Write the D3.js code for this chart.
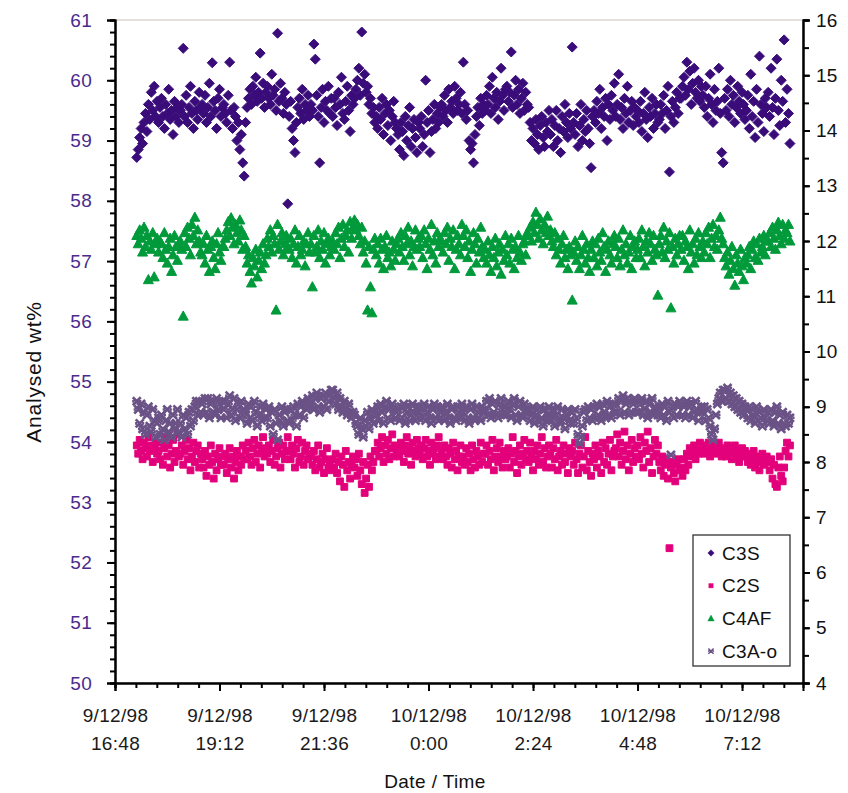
<!DOCTYPE html>
<html>
<head>
<meta charset="utf-8">
<script src="https://cdn.jsdelivr.net/npm/d3@7"></script>
<style>
  html, body { margin: 0; padding: 0; background: #ffffff; }
  svg text { font-family: "Liberation Sans", Arial, Helvetica, sans-serif; }
</style>
</head>
<body>
<svg id="chart" width="848" height="793"></svg>
<script>
// On-line analyser readings, logged every 2 minutes from 17:18 on 9/12/98.
const sampleStart = "1998-12-09T17:18";
const sampleStepMinutes = 2;

// C3S, wt% (left axis)
const C3S = [
  58.72, 58.85, 59.05, 59.2, 58.95, 59.3, 59.45, 59.15, 59.6, 59.35, 59.8, 59.5, 59.9, 59.4, 59.65,
  59.3, 59.55, 59.7, 59.4, 59.2, 59.6, 59.45, 59.85, 59.35, 59.5, 59.1, 59.65, 59.4, 59.55, 59.3,
  59.5, 59.6, 60.53, 59.4, 59.75, 59.3, 59.55, 59.9, 59.45, 59.2, 59.65, 59.5, 59.35, 59.8, 59.55,
  59.6, 59.45, 59.75, 59.3, 59.55, 59.95, 59.4, 60.29, 59.65, 59.5, 59.2, 59.7, 59.85, 59.4, 59.55,
  59.6, 59.45, 59.3, 59.75, 60.3, 59.5, 59.2, 59.55, 59.4, 59.0, 59.3, 58.85, 59.1, 58.63, 58.41,
  59.3, 59.55, 59.7, 59.85, 59.6, 59.9, 59.75, 60.05, 59.65, 59.8, 60.45, 59.7, 59.95, 59.55, 59.8,
  59.9, 59.7, 59.6, 60.1, 59.75, 59.85, 59.5, 60.78, 59.65, 59.95, 59.7, 59.45, 59.8, 59.6, 57.95,
  59.4, 59.65, 59.2, 59.0, 58.8, 59.3, 59.55, 59.7, 59.45, 59.85, 59.35, 59.6, 59.5, 59.75, 59.4,
  59.6, 59.5, 60.6, 60.35, 59.75, 59.4, 58.63, 59.55, 59.85, 59.3, 59.65, 59.5, 59.9, 59.45, 59.7,
  59.4, 59.7, 59.55, 59.25, 59.8, 59.6, 60.05, 59.45, 59.35, 59.65, 59.9, 59.5, 59.15, 59.75, 59.6,
  59.7, 59.85, 60.0, 60.2, 59.75, 60.8, 59.95, 60.1, 59.8, 59.9, 59.6, 59.7, 59.45, 59.55, 59.3,
  59.4, 59.2, 59.55, 59.35, 59.7, 59.1, 59.45, 59.6, 59.25, 59.5, 59.0, 59.4, 59.65, 59.3, 59.2,
  59.1, 58.85, 59.3, 59.15, 58.75, 59.4, 59.0, 59.25, 59.55, 58.9, 59.2, 59.35, 59.05, 58.8, 59.3,
  59.2, 59.4, 58.9, 59.1, 60.0, 59.3, 59.5, 58.8, 59.15, 59.35, 59.6, 59.2, 59.45, 59.3, 59.55,
  59.6, 59.4, 59.75, 59.5, 59.3, 59.85, 59.55, 59.65, 59.45, 59.9, 59.7, 59.5, 59.6, 59.8, 59.45,
  60.3, 59.6, 59.35, 59.5, 59.0, 58.85, 58.95, 58.63, 59.1, 59.4, 59.55, 59.25, 59.7, 59.45, 59.6,
  59.5, 59.75, 59.6, 59.9, 59.45, 60.05, 59.7, 59.55, 59.8, 59.35, 59.65, 60.2, 59.75, 59.5, 59.85,
  59.9, 59.65, 59.8, 60.47, 59.55, 59.75, 60.0, 59.6, 59.85, 59.45, 59.7, 59.95, 59.5, 59.8, 59.6,
  59.55, 59.3, 59.0, 59.2, 58.95, 59.35, 59.1, 58.85, 59.25, 59.4, 59.05, 58.9, 59.3, 59.15, 59.5,
  59.1, 59.35, 58.9, 59.25, 59.5, 59.0, 59.2, 58.8, 59.4, 59.15, 59.6, 59.3, 59.05, 59.45, 59.2,
  60.55, 59.3, 59.1, 59.45, 58.9, 59.25, 59.6, 59.0, 59.35, 59.15, 59.5, 59.2, 58.95, 58.55, 59.4,
  59.5, 59.3, 59.65, 59.45, 59.85, 59.2, 59.55, 59.4, 59.7, 59.0, 59.6, 59.35, 59.75, 59.5, 59.95,
  59.4, 59.6, 60.1, 59.35, 59.55, 59.2, 59.7, 59.45, 59.9, 59.3, 59.5, 59.65, 59.25, 59.55, 59.4,
  59.5, 59.3, 59.65, 59.15, 59.45, 59.8, 59.35, 59.05, 59.55, 59.4, 59.7, 59.2, 59.45, 59.6, 59.3,
  59.35, 59.6, 59.45, 59.75, 59.2, 59.5, 59.9, 58.48, 59.4, 59.65, 59.3, 59.55, 59.8, 59.45, 59.7,
  59.7, 59.9, 60.05, 59.75, 60.3, 59.85, 60.15, 59.6, 59.95, 60.2, 59.8, 59.7, 60.0, 59.65, 59.9,
  59.75, 59.55, 59.9, 59.4, 59.7, 60.1, 59.6, 59.3, 59.85, 59.5, 59.65, 60.2, 59.45, 58.8, 58.63,
  59.7, 59.5, 59.85, 59.4, 60.0, 59.6, 59.75, 59.3, 59.55, 59.9, 59.65, 59.45, 59.8, 59.6, 59.35,
  59.5, 59.75, 59.2, 60.1, 59.4, 59.65, 59.05, 59.85, 59.3, 60.4, 59.6, 59.45, 59.15, 59.7, 59.55,
  59.8, 59.4, 60.2, 59.55, 59.1, 59.7, 60.35, 59.5, 59.25, 60.0, 59.65, 60.67, 59.3, 59.85, 59.45,
  58.95
];

// C2S, wt% (right axis)
const C2S = [
  8.3, 8.15, 8.4, 8.2, 8.05, 8.35, 8.25, 8.1, 8.45, 8.2, 8.3, 8.0, 8.25, 8.35, 8.15,
  8.2, 8.05, 8.35, 7.95, 8.25, 8.45, 8.1, 8.3, 7.9, 8.15, 8.4, 8.0, 8.2, 8.5, 8.1,
  8.15, 8.3, 7.95, 8.2, 8.4, 8.05, 8.25, 7.85, 8.1, 8.35, 8.0, 8.2, 8.3, 7.9, 8.15,
  8.05, 7.9, 8.2, 7.75, 8.1, 7.95, 8.3, 8.0, 7.7, 8.15, 7.85, 8.05, 8.25, 7.95, 8.1,
  7.95, 8.15, 7.8, 8.05, 8.25, 7.9, 8.1, 7.7, 8.0, 8.2, 7.85, 8.1, 7.95, 8.3, 8.05,
  8.2, 8.05, 8.35, 8.1, 7.95, 8.25, 8.4, 8.0, 8.15, 8.3, 7.9, 8.2, 8.45, 8.1, 8.25,
  8.15, 8.3, 8.0, 8.2, 8.4, 7.95, 8.1, 8.25, 8.35, 7.9, 8.15, 8.3, 8.05, 8.2, 8.45,
  8.2, 8.05, 8.3, 8.15, 7.9, 8.25, 8.4, 8.0, 8.1, 8.35, 7.95, 8.2, 8.3, 8.05, 8.15,
  8.1, 7.95, 8.2, 7.85, 8.05, 8.3, 7.9, 8.0, 8.15, 7.8, 8.05, 8.25, 7.9, 8.0, 7.85,
  8.05, 7.9, 8.15, 7.8, 8.0, 7.65, 8.1, 7.95, 7.55, 8.2, 7.85, 8.0, 7.7, 7.95, 8.1,
  7.9, 8.05, 7.75, 8.15, 7.85, 7.6, 8.0, 7.44, 7.7, 7.95, 7.55, 8.1, 7.85, 8.0, 8.2,
  8.2, 8.35, 8.1, 8.25, 8.45, 8.0, 8.3, 8.15, 8.4, 8.05, 8.25, 8.5, 8.1, 8.3, 8.2,
  8.25, 8.1, 8.35, 8.2, 8.0, 8.3, 8.45, 8.15, 8.25, 7.95, 8.35, 8.2, 8.1, 8.4, 8.25,
  8.15, 8.3, 8.05, 8.25, 8.4, 8.1, 8.2, 7.95, 8.35, 8.15, 8.25, 8.05, 8.3, 8.45, 8.1,
  8.2, 8.05, 8.3, 8.1, 7.95, 8.25, 8.15, 7.9, 8.35, 8.05, 8.2, 7.85, 8.1, 8.3, 8.0,
  8.1, 7.95, 8.25, 8.0, 8.15, 7.85, 8.3, 8.05, 7.9, 8.2, 8.1, 7.95, 8.35, 8.0, 8.15,
  8.15, 8.3, 7.95, 8.2, 8.05, 8.4, 7.85, 8.1, 8.25, 8.0, 8.35, 8.1, 7.9, 8.2, 8.05,
  8.1, 8.25, 7.9, 8.15, 8.45, 8.0, 8.2, 7.8, 8.1, 8.3, 7.95, 8.15, 8.4, 8.05, 8.2,
  8.0, 8.35, 8.1, 7.85, 8.2, 8.05, 8.3, 7.95, 8.15, 8.45, 8.0, 8.25, 7.9, 8.1, 8.3,
  8.15, 7.9, 8.25, 8.05, 8.4, 7.85, 8.1, 8.2, 7.95, 8.3, 8.0, 8.15, 7.8, 8.25, 8.1,
  8.2, 7.95, 8.35, 8.05, 7.8, 8.15, 8.3, 7.9, 8.1, 8.45, 7.85, 8.2, 8.0, 7.75, 8.15,
  8.05, 8.3, 7.9, 8.2, 8.1, 7.8, 8.35, 8.0, 8.25, 7.95, 8.15, 8.4, 7.85, 8.1, 8.2,
  8.25, 8.5, 8.1, 8.35, 7.95, 8.2, 8.55, 8.05, 8.3, 7.85, 8.15, 8.4, 8.0, 8.25, 8.1,
  8.3, 8.05, 8.45, 8.15, 7.9, 8.35, 8.2, 8.55, 8.0, 8.25, 7.8, 8.1, 8.4, 8.15, 8.3,
  8.0, 7.85, 8.1, 7.75, 7.95, 8.05, 7.7, 6.44, 7.9, 8.0, 7.8, 7.65, 7.95, 8.05, 7.85,
  7.9, 7.75, 8.05, 7.85, 8.15, 7.95, 8.25, 8.1, 8.2, 8.3, 8.05, 8.25, 8.15, 8.35, 8.2,
  8.25, 8.15, 8.3, 8.2, 8.35, 8.1, 8.25, 8.2, 8.3, 8.15, 8.25, 8.35, 8.2, 8.1, 8.25,
  8.2, 8.1, 8.3, 8.15, 8.25, 8.05, 8.2, 8.3, 8.1, 8.2, 8.0, 8.15, 8.25, 8.1, 8.2,
  8.1, 8.0, 8.15, 7.95, 8.05, 8.2, 7.9, 8.1, 8.0, 7.85, 8.05, 8.15, 7.95, 8.0, 8.1,
  8.0, 7.85, 8.05, 7.7, 7.95, 7.6, 7.55, 7.9, 8.1, 7.75, 7.65, 7.9, 8.2, 8.35, 8.1,
  8.3
];

// C4AF, wt% (right axis)
const C4AF = [
  12.1, 11.95, 12.2, 12.05, 11.8, 12.25, 11.9, 12.1, 11.3, 12.0, 11.85, 12.15, 11.35, 11.95, 12.05,
  11.8, 12.0, 11.95, 11.7, 12.15, 11.85, 11.6, 11.9, 12.05, 11.45, 11.75, 12.1, 11.9, 11.65, 11.95,
  12.0, 11.85, 10.64, 12.15, 11.9, 12.25, 12.05, 11.75, 12.3, 12.1, 12.43, 11.95, 12.2, 12.0, 11.8,
  11.75, 11.95, 11.6, 12.1, 11.85, 11.45, 11.9, 12.0, 11.7, 11.5, 11.95, 12.15, 11.8, 11.65, 11.9,
  11.9, 12.05, 12.2, 12.35, 12.1, 12.42, 12.25, 11.95, 12.3, 12.15, 12.0, 12.38, 12.2, 11.85, 12.1,
  11.9, 11.6, 11.75, 11.45, 11.24, 11.7, 11.55, 11.85, 11.35, 11.65, 11.8, 11.5, 11.95, 11.6, 11.75,
  12.05, 11.9, 12.2, 11.8, 12.1, 11.95, 10.75, 12.3, 11.85, 12.0, 12.15, 11.75, 11.95, 12.1, 11.9,
  11.85, 12.05, 11.7, 11.95, 12.2, 11.6, 11.9, 12.1, 11.75, 11.85, 12.0, 11.55, 11.95, 12.15, 11.8,
  11.95, 11.17, 12.1, 11.8, 11.9, 12.2, 11.7, 12.0, 11.85, 12.15, 11.6, 11.95, 12.05, 11.75, 11.9,
  12.0, 11.85, 12.15, 11.95, 12.25, 11.7, 12.05, 12.3, 11.9, 12.1, 12.2, 11.8, 12.35, 12.05, 12.25,
  12.38, 12.2, 12.3, 12.1, 11.95, 12.25, 11.8, 12.0, 11.6, 10.75, 11.9, 11.17, 10.7, 11.85, 12.05,
  11.75, 11.95, 11.6, 12.05, 11.85, 11.5, 11.9, 12.1, 11.7, 11.8, 11.55, 12.0, 11.85, 11.65, 11.95,
  12.05, 11.8, 12.15, 11.9, 11.65, 12.1, 11.95, 12.25, 11.75, 12.0, 11.55, 11.9, 12.2, 11.85, 12.05,
  11.9, 12.1, 11.7, 12.2, 11.95, 11.5, 12.05, 11.85, 12.3, 11.75, 12.0, 11.6, 12.15, 11.9, 12.05,
  12.0, 11.8, 12.15, 11.95, 12.25, 11.65, 12.05, 11.9, 12.2, 11.5, 11.85, 12.1, 11.95, 11.75, 12.3,
  12.1, 11.9, 12.2, 11.7, 12.0, 11.45, 11.85, 12.15, 11.95, 11.6, 12.05, 11.8, 12.25, 11.9, 11.7,
  11.85, 11.6, 12.0, 11.75, 11.45, 11.9, 11.7, 12.05, 11.55, 11.8, 11.95, 11.4, 11.85, 11.65, 12.1,
  11.75, 11.95, 11.6, 12.05, 11.85, 11.5, 11.9, 11.7, 12.1, 11.8, 11.65, 11.95, 12.0, 11.75, 12.15,
  12.1, 12.25, 12.0, 12.35, 12.15, 12.52, 12.3, 12.05, 12.4, 12.2, 11.95, 12.3, 12.15, 12.45, 12.1,
  12.2, 12.0, 11.9, 12.15, 11.75, 12.05, 11.85, 11.6, 11.95, 12.1, 11.7, 11.85, 11.5, 11.9, 11.75,
  10.93, 11.8, 12.0, 11.65, 11.9, 11.5, 11.75, 12.1, 11.85, 11.6, 11.95, 11.7, 11.45, 11.85, 12.0,
  11.7, 11.95, 11.55, 12.05, 11.8, 11.65, 12.15, 11.9, 11.45, 11.85, 12.0, 11.75, 11.6, 11.95, 12.1,
  11.9, 11.7, 12.05, 11.55, 11.85, 12.2, 11.75, 11.95, 11.6, 11.8, 12.1, 11.5, 11.9, 12.0, 11.7,
  11.85, 12.05, 11.7, 12.2, 11.9, 11.55, 12.0, 11.8, 12.15, 11.95, 11.65, 12.1, 11.85, 11.75, 11.02,
  11.95, 12.1, 11.8, 12.25, 11.7, 12.0, 11.85, 12.15, 10.79, 11.9, 11.6, 12.05, 11.75, 11.95, 12.1,
  11.85, 12.1, 11.65, 12.0, 11.9, 11.5, 12.2, 11.8, 11.95, 11.6, 12.05, 11.75, 12.15, 11.9, 11.7,
  12.0, 11.8, 12.15, 11.95, 12.25, 11.7, 12.05, 12.3, 11.9, 12.1, 11.85, 12.2, 12.43, 12.05, 11.95,
  11.7, 11.55, 11.8, 11.4, 11.65, 11.9, 11.5, 11.2, 11.75, 11.6, 11.45, 11.85, 11.55, 11.3, 11.7,
  11.6, 11.75, 11.9, 11.5, 11.85, 12.0, 11.7, 11.95, 11.65, 12.05, 11.8, 11.9, 12.1, 11.75, 12.0,
  12.0, 12.15, 11.9, 12.25, 12.05, 11.85, 12.2, 12.34, 12.1, 11.95, 12.3, 12.05, 12.2, 12.15, 12.3,
  12.0
];

// C3A-o, wt% (right axis)
const C3A_o = [
  9.1, 8.95, 8.7, 9.05, 8.6, 8.9, 8.5, 8.85, 9.0, 8.65, 8.55, 8.95, 8.75, 8.45, 8.7,
  8.8, 8.5, 8.85, 8.6, 8.4, 8.75, 8.95, 8.55, 8.7, 8.45, 8.85, 8.6, 8.7, 8.95, 8.55,
  8.7, 8.45, 8.85, 8.6, 8.8, 8.5, 8.9, 8.65, 8.95, 8.75, 9.0, 9.1, 8.85, 9.1, 8.9,
  9.05, 8.85, 9.15, 8.9, 9.15, 8.8, 9.05, 9.1, 8.9, 8.85, 9.15, 8.95, 9.05, 8.8, 9.1,
  8.95, 9.1, 8.8, 9.05, 9.2, 8.85, 8.95, 9.15, 8.75, 8.95, 9.05, 8.8, 9.1, 8.85, 8.95,
  8.9, 8.7, 9.05, 8.8, 9.0, 8.75, 9.1, 8.9, 8.65, 8.85, 9.0, 8.75, 9.05, 8.8, 8.95,
  8.8, 9.0, 8.65, 8.9, 8.5, 8.95, 8.7, 8.4, 8.85, 8.75, 9.0, 8.65, 8.9, 8.95, 8.75,
  8.7, 8.95, 8.75, 9.0, 8.85, 8.65, 9.05, 8.85, 9.0, 9.1, 8.8, 9.05, 8.95, 9.15, 9.0,
  9.05, 9.2, 8.95, 9.15, 9.25, 9.0, 8.9, 9.15, 9.2, 9.0, 9.25, 8.95, 9.1, 9.2, 9.3,
  9.3, 9.15, 9.05, 9.25, 8.95, 9.15, 9.0, 8.9, 9.1, 8.95, 8.85, 9.05, 8.9, 8.8, 8.9,
  8.85, 8.7, 8.65, 8.5, 8.8, 8.6, 8.45, 8.75, 8.65, 8.9, 8.6, 8.8, 8.95, 8.7, 8.9,
  8.85, 9.0, 8.75, 9.05, 8.9, 8.7, 9.0, 9.1, 8.8, 8.95, 8.75, 9.05, 8.95, 8.8, 8.9,
  8.95, 8.75, 9.0, 8.8, 9.05, 8.7, 8.9, 9.0, 8.75, 8.85, 9.05, 8.9, 8.75, 9.0, 8.8,
  8.9, 9.0, 8.8, 9.05, 8.75, 8.9, 9.0, 8.8, 8.7, 8.95, 9.05, 8.8, 9.0, 8.75, 8.9,
  8.8, 9.0, 8.75, 8.9, 9.05, 8.8, 8.7, 8.95, 9.0, 8.8, 8.75, 9.0, 8.9, 8.8, 9.05,
  8.9, 8.75, 9.0, 8.8, 8.7, 8.95, 9.05, 8.8, 8.75, 9.0, 8.9, 8.8, 8.75, 9.0, 8.9,
  8.95, 9.1, 8.85, 9.15, 8.8, 9.05, 8.9, 9.1, 8.85, 8.8, 9.05, 9.15, 8.95, 8.85, 9.0,
  8.85, 9.1, 8.95, 8.8, 9.05, 9.15, 8.85, 8.75, 9.0, 9.1, 8.85, 8.8, 9.05, 8.95, 8.9,
  8.95, 8.75, 8.85, 9.0, 8.7, 8.85, 8.95, 8.75, 9.0, 8.8, 8.65, 8.95, 8.75, 8.85, 9.0,
  8.85, 8.75, 8.95, 8.65, 8.85, 9.0, 8.75, 8.7, 8.95, 8.8, 8.6, 8.85, 8.95, 8.75, 8.7,
  8.9, 8.7, 8.95, 8.8, 8.5, 8.34, 8.45, 8.65, 8.9, 8.95, 8.75, 9.0, 8.8, 8.95, 8.75,
  9.0, 8.8, 9.05, 8.85, 9.0, 8.75, 9.05, 8.9, 8.8, 9.1, 8.85, 9.0, 8.8, 9.05, 8.9,
  9.05, 8.9, 9.15, 8.85, 9.1, 9.2, 8.9, 9.05, 9.15, 8.85, 9.1, 8.9, 9.05, 9.15, 8.9,
  9.1, 8.9, 9.05, 9.15, 8.85, 8.95, 9.1, 8.8, 9.05, 8.9, 9.15, 8.85, 9.0, 8.95, 8.85,
  9.0, 8.8, 9.05, 8.85, 9.0, 8.75, 9.1, 8.9, 8.13, 9.0, 8.8, 9.05, 8.85, 9.0, 9.1,
  9.05, 8.85, 9.0, 8.8, 9.1, 8.85, 9.0, 9.05, 8.8, 8.9, 9.1, 8.95, 8.75, 8.9, 9.0,
  8.9, 9.0, 8.75, 8.95, 8.8, 8.65, 8.5, 8.4, 8.6, 8.85, 9.05, 9.15, 9.25, 9.1, 9.3,
  9.3, 9.15, 9.34, 9.1, 9.25, 9.05, 9.2, 9.0, 9.15, 8.95, 9.1, 8.9, 9.05, 8.85, 9.0,
  8.95, 8.8, 9.0, 8.75, 8.95, 8.85, 8.7, 9.0, 8.75, 8.9, 8.8, 8.65, 8.95, 8.8, 8.75,
  8.9, 8.7, 8.95, 8.75, 8.65, 8.9, 9.0, 8.7, 8.85, 8.6, 8.9, 8.7, 8.65, 8.85, 8.7,
  8.8
];

// Axes: time span, tick positions and labels
const xDomain = ["1998-12-09T16:48", "1998-12-10T08:36"];
const xTickTimes = [
  "1998-12-09T16:48", "1998-12-09T19:12", "1998-12-09T21:36", "1998-12-10T00:00",
  "1998-12-10T02:24", "1998-12-10T04:48", "1998-12-10T07:12"
];
const xMinorStepMinutes = 28.8;
const leftDomain = [50, 61];
const leftTicks = [50, 51, 52, 53, 54, 55, 56, 57, 58, 59, 60, 61];
const leftMinorStep = 0.2;
const rightDomain = [4, 16];
const rightTicks = [4, 5, 6, 7, 8, 9, 10, 11, 12, 13, 14, 15, 16];
const rightMinorStep = 0.5;

const seriesNames = ["C3S", "C2S", "C4AF", "C3A-o"];

// ---------------------------------------------------------------------
const parseT = d3.timeParse("%Y-%m-%dT%H:%M");
const svg = d3.select("#chart");
const plot = { left: 115, right: 803, top: 20, bottom: 683 };

const x = d3.scaleTime().domain(xDomain.map(parseT)).range([plot.left, plot.right]);
const yL = d3.scaleLinear().domain(leftDomain).range([plot.bottom, plot.top]);
const yR = d3.scaleLinear().domain(rightDomain).range([plot.bottom, plot.top]);

const t0 = parseT(sampleStart);
const timeAt = i => d3.timeMinute.offset(t0, i * sampleStepMinutes);

// marker shapes
const shapes = {
  diamond: "M0,-5L5,0L0,5L-5,0Z",
  square: "M-3.4,-3.4H3.4V3.4H-3.4Z",
  triangle: "M0,-5.2L5,4H-5Z",
  cross: "M-4,-4L4,4M-4,4L4,-4M-4.6,0H-2.4M2.4,0H4.6"
};

const series = [
  { name: seriesNames[0], values: C3S, y: yL, color: "#3a0c7a", shape: "diamond" },
  { name: seriesNames[1], values: C2S, y: yR, color: "#e3007b", shape: "square" },
  { name: seriesNames[2], values: C4AF, y: yR, color: "#009a3b", shape: "triangle" },
  { name: seriesNames[3], values: C3A_o, y: yR, color: "#6a5286", shape: "cross" }
];

// plot frame (light border)
svg.append("rect")
  .attr("x", plot.left).attr("y", plot.top)
  .attr("width", plot.right - plot.left).attr("height", plot.bottom - plot.top)
  .attr("fill", "none").attr("stroke", "#d4cbc4").attr("stroke-width", 1.2);

// data points
const gData = svg.append("g");
series.forEach(s => {
  const g = gData.append("g");
  const sel = g.selectAll("path").data(s.values).join("path")
    .attr("transform", (v, i) => `translate(${x(timeAt(i)).toFixed(2)},${s.y(v).toFixed(2)})`)
    .attr("d", shapes[s.shape]);
  if (s.shape === "cross") {
    sel.attr("fill", "none").attr("stroke", s.color).attr("stroke-width", 2.6);
  } else {
    sel.attr("fill", s.color).attr("stroke", s.color).attr("stroke-width", 1)
       .attr("stroke-linejoin", "round");
  }
});

// axes
const fontSize = "19px";
function styleAxis(g, color) {
  g.select(".domain").attr("stroke", "#000").attr("stroke-width", 2);
  g.selectAll(".tick line").attr("stroke", "#000").attr("stroke-width", 2);
  g.selectAll("text").attr("fill", color).style("font-size", fontSize)
    .style("letter-spacing", "0.3px").style("font-family", "'Liberation Sans', Arial, sans-serif");
}

// left axis
const leftMinor = d3.range(leftDomain[0], leftDomain[1] + 1e-9, leftMinorStep);
svg.append("g").attr("transform", `translate(${plot.left},0)`)
  .call(d3.axisLeft(yL).tickValues(leftMinor).tickSize(5).tickFormat(""))
  .call(g => styleAxis(g, "#000"));
svg.append("g").attr("transform", `translate(${plot.left},0)`)
  .call(d3.axisLeft(yL).tickValues(leftTicks).tickSize(8).tickPadding(15).tickFormat(d3.format("d")))
  .call(g => styleAxis(g, "#4a2b8c"));

// right axis
const rightMinor = d3.range(rightDomain[0], rightDomain[1] + 1e-9, rightMinorStep);
svg.append("g").attr("transform", `translate(${plot.right},0)`)
  .call(d3.axisRight(yR).tickValues(rightMinor).tickSize(6).tickFormat(""))
  .call(g => styleAxis(g, "#000"));
svg.append("g").attr("transform", `translate(${plot.right},0)`)
  .call(d3.axisRight(yR).tickValues(rightTicks).tickSize(7).tickPadding(6).tickFormat(d3.format("d")))
  .call(g => styleAxis(g, "#111"));

// bottom axis
const xd = x.domain();
const xMinor = d3.range(+xd[0], +xd[1] + 1, xMinorStepMinutes * 60000).map(t => new Date(t));
svg.append("g").attr("transform", `translate(0,${plot.bottom})`)
  .call(d3.axisBottom(x).tickValues(xMinor).tickSize(5).tickFormat(""))
  .call(g => styleAxis(g, "#000"));
const fmtDate = d3.timeFormat("%-d/%-m/%y");
const fmtTime = d3.timeFormat("%-H:%M");
const xAxisG = svg.append("g").attr("transform", `translate(0,${plot.bottom})`)
  .call(d3.axisBottom(x).tickValues(xTickTimes.map(parseT)).tickSize(8).tickFormat(""))
  .call(g => styleAxis(g, "#111"));
xAxisG.selectAll(".tick").each(function (d) {
  const t = d3.select(this).append("text")
    .attr("fill", "#1a1a1a").attr("text-anchor", "middle")
    .style("font-size", fontSize).style("letter-spacing", "0.3px");
  t.append("tspan").attr("x", 0).attr("y", 39).text(fmtDate(d));
  t.append("tspan").attr("x", 0).attr("y", 67).text(fmtTime(d));
});

// axis titles
svg.append("text")
  .attr("transform", "translate(41,372) rotate(-90)")
  .attr("text-anchor", "middle").attr("fill", "#111")
  .style("font-size", "21px").style("letter-spacing", "0.8px")
  .text("Analysed wt%");
svg.append("text")
  .attr("x", 435).attr("y", 788)
  .attr("text-anchor", "middle").attr("fill", "#111")
  .style("font-size", fontSize).style("letter-spacing", "0.4px")
  .text("Date / Time");

// legend
const legend = svg.append("g");
legend.append("rect")
  .attr("x", 693).attr("y", 535).attr("width", 97).attr("height", 131)
  .attr("fill", "#fff").attr("stroke", "#333").attr("stroke-width", 1.3);
series.forEach((s, i) => {
  const cy = 553 + i * 32.7;
  const m = legend.append("path")
    .attr("transform", `translate(711,${cy}) scale(0.65)`)
    .attr("d", shapes[s.shape]);
  if (s.shape === "cross") {
    m.attr("fill", "none").attr("stroke", s.color).attr("stroke-width", 2.3);
  } else {
    m.attr("fill", s.color).attr("stroke", s.color).attr("stroke-width", 0.6);
  }
  legend.append("text")
    .attr("x", 722).attr("y", cy + 6.5)
    .attr("fill", "#111")
    .style("font-size", fontSize).style("letter-spacing", "0.3px")
    .text(s.name);
});
</script>
</body>
</html>
